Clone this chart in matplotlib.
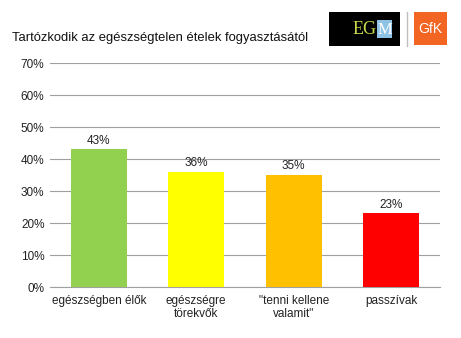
import matplotlib
matplotlib.use("Agg")
import matplotlib.pyplot as plt
from matplotlib.patches import Rectangle

plt.rcParams['font.family'] = ['Liberation Sans', 'DejaVu Sans']

categories = ['egészségben élők', 'egészségre\ntörekvők', '"tenni kellene\nvalamit"', 'passzívak']
values = [43, 36, 35, 23]
bar_colors = ['#92D050', '#FFFF00', '#FFC000', '#FF0000']
yticks = [0, 10, 20, 30, 40, 50, 60, 70]

W, H = 461, 338
fig = plt.figure(figsize=(W / 100, H / 100), dpi=100)
ax = fig.add_axes([50 / W, (H - 287) / H, (440 - 50) / W, (287 - 63) / H])

x = range(len(categories))
ax.bar(x, values, width=0.575, color=bar_colors, zorder=3)
for i, v in enumerate(values):
    ax.text(i, v + 0.8, f'{v}%', ha='center', va='bottom', fontsize=8.5, color='#222222')

ax.set_ylim(0, 70)
ax.set_xlim(-0.5, len(categories) - 0.5)
ax.set_yticks(yticks)
ax.set_yticklabels([f'{t}%' for t in yticks], fontsize=8.5, color='#222222')
ax.set_xticks(list(x))
ax.set_xticklabels(categories, fontsize=8.5, color='#222222', linespacing=1.1)
ax.tick_params(axis='both', length=0, pad=4)
ax.tick_params(axis='x', pad=6)
ax.yaxis.grid(True, color='#A0A0A0', linewidth=0.8, zorder=0)
for s in ['top', 'right', 'left']:
    ax.spines[s].set_visible(False)
ax.spines['bottom'].set_color('#A0A0A0')

fig.text(12 / W, 1 - 38 / H, 'Tartózkodik az egészségtelen ételek fogyasztásától',
         fontsize=9.4, va='center', ha='left', color='#111111')

# logos
fig.patches.append(Rectangle((329 / W, 1 - 46 / H), 71 / W, 34 / H, transform=fig.transFigure,
                             facecolor='black', edgecolor='none'))
fig.text(377 / W, 1 - 30 / H, 'EG', fontsize=13, color='#C8D84A', family='Liberation Serif',
         ha='right', va='center')
fig.patches.append(Rectangle((377 / W, 1 - 38 / H), 15 / W, 18 / H, transform=fig.transFigure,
                             facecolor='#8EC3E6', edgecolor='none'))
fig.text(384.5 / W, 1 - 29.5 / H, 'M', fontsize=12, color='white', family='Liberation Serif',
         ha='center', va='center')
fig.lines.append(plt.Line2D([407 / W, 407 / W], [1 - 46 / H, 1 - 12 / H], transform=fig.transFigure,
                            color='#C0C0C0', linewidth=1))
fig.patches.append(Rectangle((414 / W, 1 - 45 / H), 33 / W, 33 / H, transform=fig.transFigure,
                             facecolor='#F26522', edgecolor='none'))
fig.text(430.5 / W, 1 - 29 / H, 'GfK', fontsize=10, color='white', ha='center', va='center')

fig.savefig('out.png', dpi=100, facecolor='white')
